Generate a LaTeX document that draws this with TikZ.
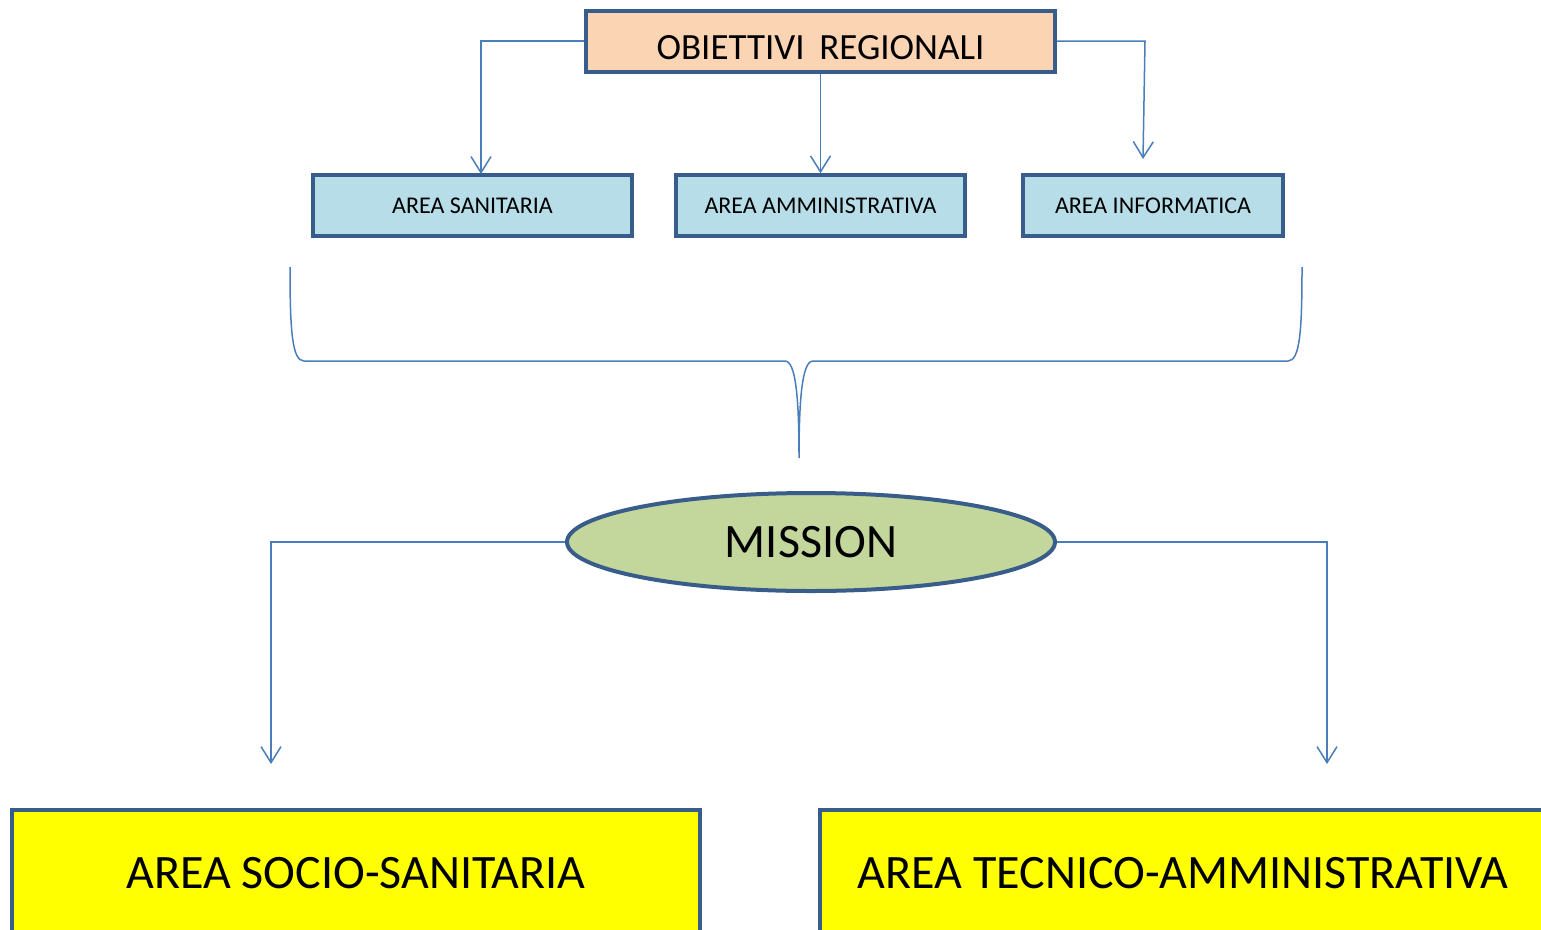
\documentclass[tikz,border=0pt]{standalone}
\usepackage{fontspec}
\setmainfont{Carlito}
\usetikzlibrary{arrows.meta,shapes.geometric}
\definecolor{bord}{HTML}{385D8A}
\definecolor{conn}{HTML}{4A7EBB}
\definecolor{peach}{HTML}{FBD4B4}
\definecolor{lblue}{HTML}{B7DEE8}
\definecolor{lgreen}{HTML}{C3D69B}
\definecolor{yel}{HTML}{FFFF00}
\tikzset{
  box/.style={draw=bord, line width=3.5pt, rectangle, inner sep=0pt},
  areabox/.style={box, fill=lblue, minimum height=61pt, font=\fontsize{24}{28}\selectfont},
  bigbox/.style={box, fill=yel, minimum height=126pt, font=\fontsize{48}{54}\selectfont},
  conline/.style={draw=conn, line width=1.5pt},
  arr/.style={conline, -{Straight Barb[length=16pt,width=20pt,line width=1.5pt]}},
}
\begin{document}
\begin{tikzpicture}[x=1pt,y=-1pt]
\useasboundingbox (0,0) rectangle (1541,929);
\clip (0,0) rectangle (1541,929);
\node[box, fill=peach, minimum width=469pt, minimum height=61pt, text height=35pt, text depth=0pt, font=\fontsize{37}{40}\selectfont] (obj) at (820.5,41.5) {OBIETTIVI\, REGIONALI};
\node[areabox, minimum width=319pt] (san) at (472.5,205.5) {AREA SANITARIA};
\node[areabox, minimum width=289pt] (amm) at (820.5,205.5) {AREA AMMINISTRATIVA};
\node[areabox, minimum width=260pt] (inf) at (1153,205.5) {AREA INFORMATICA};
\node[ellipse, draw=bord, line width=4pt, fill=lgreen, minimum width=488pt, minimum height=98pt, inner sep=0pt, font=\fontsize{48}{52}\selectfont] (mis) at (811,542) {MISSION};
\node[bigbox, minimum width=688pt] (soc) at (356,873) {AREA SOCIO-SANITARIA};
\node[bigbox, minimum width=726pt] (tec) at (1183,873) {AREA TECNICO-AMMINISTRATIVA};

\coordinate (infTip) at (1143,159);
\coordinate (socTip) at (271,764);
\coordinate (tecTip) at (1327,764);
\coordinate (brL) at (290,267);
\coordinate (brR) at (1302,267);
\coordinate (brM) at (799,458);

\draw[arr] (obj.west |- 0,41) -- (481,41) -- (481,174);
\draw[arr] (obj.south) -- (amm.north);
\draw[arr] (obj.east |- 0,41) -- (1145,41) -- (infTip);
\draw[arr] (mis.west) -- (271,542) -- (socTip);
\draw[arr] (mis.east) -- (1327,542) -- (tecTip);

\draw[conline] (brL) .. controls (290,330) and (292,361) .. (304,361) -- (785,361)
  .. controls (796,361) and (799,400) .. (brM)
  .. controls (799,400) and (802,361) .. (813,361) -- (1288,361)
  .. controls (1300,361) and (1302,330) .. (brR);
\end{tikzpicture}
\end{document}
